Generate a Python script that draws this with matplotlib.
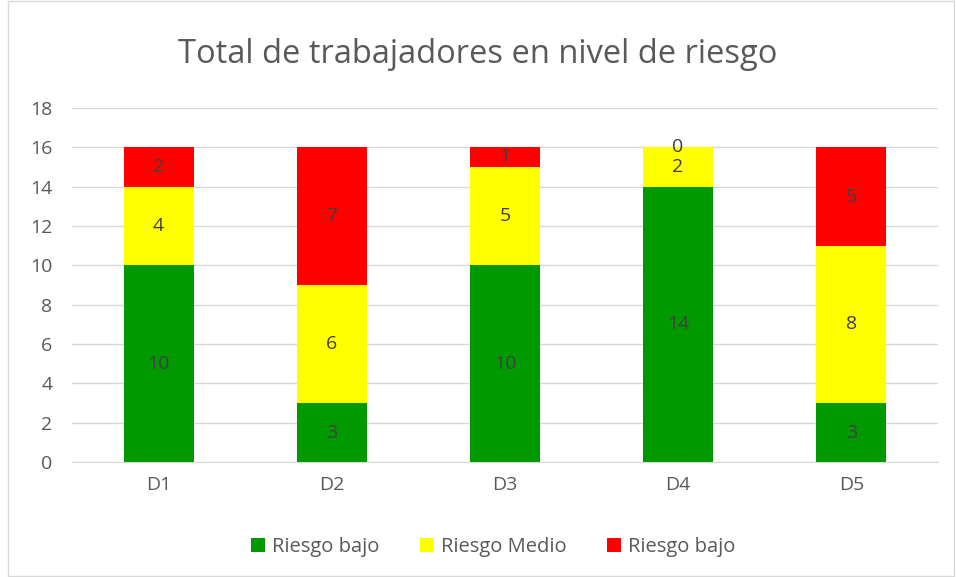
import matplotlib
matplotlib.use("Agg")
import matplotlib.pyplot as plt
import numpy as np
from matplotlib.patches import Rectangle

categories = ["D1", "D2", "D3", "D4", "D5"]
series_names = ["Riesgo bajo", "Riesgo Medio", "Riesgo bajo"]
bajo = [10, 3, 10, 14, 3]
medio = [4, 6, 5, 2, 8]
alto = [2, 7, 1, 0, 5]
colors = ["#009900", "#FFFF00", "#FF0000"]
yticks = [0, 2, 4, 6, 8, 10, 12, 14, 16, 18]

plt.rcParams['font.family'] = ['Open Sans', 'DejaVu Sans']

fig = plt.figure(figsize=(9.56, 5.77), dpi=100)
fig.patches.append(Rectangle((0.008, 0.002), 0.99, 0.996, transform=fig.transFigure,
                             fill=False, edgecolor="#D9D9D9", linewidth=1))
ax = fig.add_axes([0.0753, 0.1993, 0.9057, 0.6135])

x = np.arange(len(categories))
width = 0.405
bottom = np.zeros(len(categories))
for vals, col, name in zip([bajo, medio, alto], colors, series_names):
    bars = ax.bar(x, vals, width, bottom=bottom, color=col, label=name, zorder=2)
    for xi, v, b in zip(x, vals, bottom):
        ax.text(xi, b + v / 2, str(v), ha="center", va="center", fontsize=14,
                color="#404040", zorder=3)
    bottom = bottom + np.array(vals)

ax.set_xlim(-0.5, len(categories) - 0.5)
ax.set_ylim(0, 18)
ax.set_yticks(yticks)
ax.set_xticks(x)
ax.set_xticklabels(categories)
ax.yaxis.grid(True, color="#D9D9D9", linewidth=1, zorder=0)
ax.set_axisbelow(True)
for s in ["top", "right", "left"]:
    ax.spines[s].set_visible(False)
ax.spines["bottom"].set_color("#D9D9D9")
ax.tick_params(axis="both", length=0, labelsize=14, labelcolor="#595959")
ax.tick_params(axis="x", pad=10)
ax.tick_params(axis="y", pad=14)

fig.text(0.5, 0.905, "Total de trabajadores en nivel de riesgo", ha="center", va="center",
         fontsize=23.5, color="#595959")

leg = fig.legend(loc="center", bbox_to_anchor=(0.516, 0.052), ncol=3, frameon=False,
                 fontsize=14.5, handlelength=0.7, handleheight=0.7, columnspacing=2.0,
                 handletextpad=0.35)
for t in leg.get_texts():
    t.set_color("#595959")

fig.savefig("out.png", dpi=100)
